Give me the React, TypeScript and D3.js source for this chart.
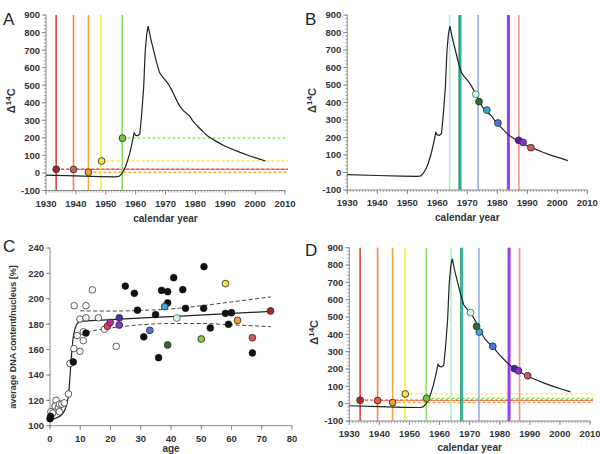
import React from "react";
import * as d3 from "d3";

// ---------- Data ----------
const bombYears = [1930, 1940, 1948, 1953.5, 1954.5, 1955.3, 1956.2, 1957, 1958, 1958.8, 1959.5, 1960, 1960.7, 1961.4, 1962, 1962.7, 1963.2, 1963.7, 1964.2, 1965, 1966, 1967, 1968, 1969, 1970, 1971, 1972, 1973, 1974, 1975, 1976, 1977, 1978, 1979, 1980, 1981, 1982, 1983, 1984, 1985, 1986, 1987, 1988, 1990, 1992, 1995, 1998, 2001, 2003.5];
const bombD14C = [-12, -17, -21, -22, -19, -5, 20, 53, 110, 170, 228, 215, 212, 222, 330, 490, 690, 790, 837, 770, 700, 630, 572, 548, 528, 505, 475, 440, 405, 375, 355, 340, 325, 300, 280, 262, 245, 228, 212, 200, 190, 180, 170, 152, 138, 117, 98, 82, 68];

const yearTicks = [1930, 1940, 1950, 1960, 1970, 1980, 1990, 2000, 2010];
const d14cTicks = [-100, 0, 100, 200, 300, 400, 500, 600, 700, 800, 900];

// lineage colours
const colLine = {
  darkred: "#d9483f", salmon: "#ee8455", orange: "#f6a93b", yellow: "#fbea45", green: "#8ee05a",
  mint: "#aef0cc", dkgreen: "#2f9a5c", teal: "#31aeb0", blue: "#8fb0ee", purple: "#9b3cf0", lightred: "#f59090",
};

// Panel A: pre-bomb births
const aLineYears = [1933.4, 1939.2, 1944.2, 1948.4, 1955.5];
const aLineKeys = ["darkred", "salmon", "orange", "yellow", "green"];
const aDotYears = [1933.4, 1939.2, 1944.2, 1948.6, 1955.6];
const aDotValues = [21, 20, 4, 68, 198];
const aDotFill = ["#a82828", "#d9603a", "#f0a030", "#f3e53a", "#6cc83c"];

// Panel B: post-bomb births
const bLineYears = [1964.1, 1967.3, 1967.8, 1973.6, 1983.7, 1987.2];
const bLineKeys = ["mint", "dkgreen", "teal", "blue", "purple", "lightred"];
const bDotYears = [1972.8, 1973.9, 1976.5, 1980.2, 1987.1, 1988.6, 1991.2];
const bDotValues = [447, 405, 357, 283, 184, 172, 142];
const bDotFill = ["#d6f5e4", "#2f6b2f", "#3aa8d8", "#4a78d0", "#4a1fa8", "#8a30d0", "#d05a5a"];

// Panel D: combined
const dLineYears = [1933.6, 1939.4, 1944.4, 1948.5, 1955.6, 1963.8, 1967.1, 1967.6, 1973.1, 1983.1, 1986.6];
const dLineKeys = ["darkred", "salmon", "orange", "yellow", "green", "mint", "dkgreen", "teal", "blue", "purple", "lightred"];
const dDotYears = [1933.6, 1939.4, 1944.4, 1948.6, 1955.7, 1970.3, 1972.3, 1973.2, 1977.7, 1984.9, 1986.2, 1989.3];
const dDotValues = [20, 18, 6, 56, 31, 525, 446, 413, 331, 202, 190, 161];
const dDotFill = ["#a82828", "#d9603a", "#f0a030", "#f3e53a", "#6cc83c", "#d6f5e4", "#2f6b2f", "#3aa8d8", "#4a78d0", "#4a1fa8", "#8a30d0", "#d05a5a"];
const dHYears = [1933.6, 1939.4, 1944.4, 1948.6, 1955.7];
const dHValues = [20, 18, 6, 56, 31];
const dHKeys = ["darkred", "salmon", "orange", "yellow", "green"];

// Panel C: DNA content vs age
const openAge = [0.3, 0.9, 2, 1.7, 2.8, 3.1, 3.9, 4.7, 3.1, 6.1, 6.6, 7.9, 8, 9, 9.9, 9.9, 11, 11, 11.9, 11.9, 14, 16, 18, 21.9];
const openDNA = [111, 110, 120, 115.5, 114.7, 117, 117, 118, 111, 125, 149, 160.7, 194.5, 171, 158.6, 184, 167, 174, 194.5, 185, 207, 185, 176, 162.5];
const blackAge = [0, 0.2, 7.7, 11.9, 24.9, 27.9, 28.9, 31, 34.9, 36.9, 35.9, 38.9, 38.9, 40.9, 43.9, 44.8, 50.9, 50.8, 53, 58, 59, 60, 66.9];
const blackDNA = [105.5, 107.3, 150.2, 173, 210, 204.3, 191, 170, 187.5, 206.6, 153.6, 205.6, 196.7, 216.6, 207.2, 192.5, 225.3, 192.5, 177, 188.5, 179.9, 189, 157.3];
const colAge = [19, 19.9, 22.9, 22.9, 33, 37.9, 38.9, 41.9, 50, 58, 62, 66.9, 72.9];
const colDNA = [178.3, 181.4, 185, 179.3, 175.1, 193.8, 163.6, 184.8, 168.3, 211.9, 183, 169.3, 190.4];
const colFill = ["#e0406a", "#c02a9a", "#4a2ab8", "#8a30c8", "#4a78d0", "#3aa8d8", "#2f6b2f", "#d6f5e4", "#7ed04a", "#f3e53a", "#f0a030", "#d05a5a", "#a82828"];
const colStroke = ["#333", "#333", "#333", "#333", "#333", "#333", "#333", "#2a8a6a", "#333", "#333", "#333", "#333", "#333"];

const fitAge = [0, 2, 4, 5, 6, 6.5, 7, 7.5, 8, 8.5, 9, 10, 11, 20, 40, 73];
const fitDNA = [104, 106, 109, 113, 122, 135, 152, 166, 174, 178, 180.5, 182, 182.3, 183.5, 186, 190];
const bandAge = [10, 20, 30, 40, 50, 60, 73];
const bandUpper = [190.5, 190.3, 190.8, 192, 194.5, 197.5, 201.5];
const bandLower = [173, 177, 179.5, 180.5, 180.5, 179.5, 178];

const ageTicks = [0, 10, 20, 30, 40, 50, 60, 70, 80];
const dnaTicks = [100, 120, 140, 160, 180, 200, 220, 240];

const FONT = "'Liberation Sans', Arial, sans-serif";
const AXIS = "#8a8a8a";
const TXT = "#333";

type Sc = d3.ScaleLinear<number, number>;

function Axes({ x, y, xt, yt, xMinor, yMinor, xTitle, titleDy }: { x: Sc; y: Sc; xt: number[]; yt: number[]; xMinor: number; yMinor: number; xTitle: string; titleDy: number }) {
  const [x0, x1] = x.range();
  const [yb, ytop] = y.range();
  const xd = x.domain();
  const yd = y.domain();
  const xm = d3.range(xd[0], xd[1] + 0.001, xMinor);
  const ym = d3.range(yd[0], yd[1] + 0.001, yMinor);
  return (
    <g>
      <line x1={x0} x2={x1} y1={yb} y2={yb} stroke={AXIS} strokeWidth={1} />
      <line x1={x0} x2={x0} y1={yb} y2={ytop} stroke={AXIS} strokeWidth={1} />
      {xm.map((v, i) => (
        <line key={"xm" + i} x1={x(v)} x2={x(v)} y1={yb} y2={yb + 2} stroke={AXIS} strokeWidth={0.8} />
      ))}
      {ym.map((v, i) => (
        <line key={"ym" + i} x1={x0 - 2} x2={x0} y1={y(v)} y2={y(v)} stroke={AXIS} strokeWidth={0.8} />
      ))}
      {xt.map((v) => (
        <g key={"xt" + v}>
          <line x1={x(v)} x2={x(v)} y1={yb} y2={yb + 4} stroke={AXIS} strokeWidth={1} />
          <text x={x(v)} y={yb + 16} textAnchor="middle" fontFamily={FONT} fontWeight="bold" fontSize={9.5} fill={TXT}>{v}</text>
        </g>
      ))}
      {yt.map((v) => (
        <g key={"yt" + v}>
          <line x1={x0 - 4} x2={x0} y1={y(v)} y2={y(v)} stroke={AXIS} strokeWidth={1} />
          <text x={x0 - 6} y={y(v) + 3.4} textAnchor="end" fontFamily={FONT} fontWeight="bold" fontSize={9.5} fill={TXT}>{v}</text>
        </g>
      ))}
      <text x={(x0 + x1) / 2} y={yb + titleDy} textAnchor="middle" fontFamily={FONT} fontWeight="bold" fontSize={10} fill={TXT}>{xTitle}</text>
    </g>
  );
}

function BombPanel({ xr, yr, letter, lx, ly, titleDy, vYears, vKeys, hYears, hValues, hKeys, dotYears, dotValues, dotFill }: any) {
  const x = d3.scaleLinear().domain([1930, 2010]).range(xr);
  const y = d3.scaleLinear().domain([-100, 900]).range(yr);
  const line = d3.line<number>().x((_, i) => x(bombYears[i])).y((d) => y(d));
  const yMid = (yr[0] + yr[1]) / 2;
  return (
    <g>
      <text x={lx} y={ly} fontFamily={FONT} fontSize={17} fill="#222">{letter}</text>
      {hYears.map((yy: number, i: number) => (
        <line key={"h" + i} x1={x(yy)} x2={x(2011)} y1={y(hValues[i])} y2={y(hValues[i])} stroke={(colLine as any)[hKeys[i]]} strokeWidth={1.3} strokeDasharray="3,2" />
      ))}
      {vYears.map((yy: number, i: number) => (
        <line key={"v" + i} x1={x(yy)} x2={x(yy)} y1={y(900)} y2={y(-100)} stroke={(colLine as any)[vKeys[i]]} strokeWidth={vKeys[i] === "purple" ? 3 : 1.6} />
      ))}
      <Axes x={x} y={y} xt={yearTicks} yt={d14cTicks} xMinor={1} yMinor={20} xTitle="calendar year" titleDy={titleDy} />
      <path d={line(bombD14C) || ""} fill="none" stroke="#222" strokeWidth={1.2} />
      {dotYears.map((yy: number, i: number) => (
        <circle key={"d" + i} cx={x(yy)} cy={y(dotValues[i])} r={3.4} fill={dotFill[i]} stroke={dotFill[i] === "#d6f5e4" ? "#2a8a6a" : "#333"} strokeWidth={0.9} />
      ))}
      <text transform={`translate(${xr[0] - 31},${yMid - 2}) rotate(-90)`} textAnchor="middle" fontFamily={FONT} fontWeight="bold" fontSize={11} fill={TXT}>
        <tspan>Δ</tspan><tspan fontSize={8} dy={-4.5}>14</tspan><tspan dy={4.5}>C</tspan>
      </text>
    </g>
  );
}

function DnaPanel() {
  const x = d3.scaleLinear().domain([0, 80]).range([50, 292]);
  const y = d3.scaleLinear().domain([100, 240]).range([425.7, 248]);
  const fit = d3.line<number>().x((_, i) => x(fitAge[i])).y((d) => y(d)).curve(d3.curveMonotoneX);
  const band = d3.line<number>().x((_, i) => x(bandAge[i])).y((d) => y(d)).curve(d3.curveMonotoneX);
  return (
    <g>
      <text x={3} y={252} fontFamily={FONT} fontSize={17} fill="#222">C</text>
      <Axes x={x} y={y} xt={ageTicks} yt={dnaTicks} xMinor={10} yMinor={20} xTitle="age" titleDy={26} />
      <path d={band(bandUpper) || ""} fill="none" stroke="#444" strokeWidth={1} strokeDasharray="4,2.5" />
      <path d={band(bandLower) || ""} fill="none" stroke="#444" strokeWidth={1} strokeDasharray="4,2.5" />
      <path d={fit(fitDNA) || ""} fill="none" stroke="#222" strokeWidth={1.2} />
      {openAge.map((a, i) => (
        <circle key={"o" + i} cx={x(a)} cy={y(openDNA[i])} r={3.3} fill="#fff" stroke="#333" strokeWidth={0.8} />
      ))}
      {blackAge.map((a, i) => (
        <circle key={"b" + i} cx={x(a)} cy={y(blackDNA[i])} r={3.4} fill="#111" stroke="#111" strokeWidth={0.6} />
      ))}
      {colAge.map((a, i) => (
        <circle key={"c" + i} cx={x(a)} cy={y(colDNA[i])} r={3.4} fill={colFill[i]} stroke={colStroke[i]} strokeWidth={0.9} />
      ))}
      <text transform={`translate(16,337) rotate(-90)`} textAnchor="middle" fontFamily={FONT} fontWeight="bold" fontSize={9} fill={TXT}>average DNA content/nucleus [%]</text>
    </g>
  );
}

export default function App() {
  return (
    <svg width={600} height={454} style={{ position: "absolute", left: 0, top: 0, background: "#fff" }}>
      <rect width={600} height={454} fill="#fff" />
      <BombPanel xr={[46, 285]} yr={[190.5, 15]} letter="A" lx={3} ly={25} titleDy={31}
        vYears={aLineYears} vKeys={aLineKeys}
        hYears={aDotYears} hValues={aDotValues} hKeys={aLineKeys}
        dotYears={aDotYears} dotValues={aDotValues} dotFill={aDotFill} />
      <BombPanel xr={[347.3, 587.3]} yr={[190, 15]} letter="B" lx={305} ly={25} titleDy={31}
        vYears={bLineYears} vKeys={bLineKeys}
        hYears={[]} hValues={[]} hKeys={[]}
        dotYears={bDotYears} dotValues={bDotValues} dotFill={bDotFill} />
      <DnaPanel />
      <BombPanel xr={[349.3, 590]} yr={[421, 247.7]} letter="D" lx={305} ly={256} titleDy={30}
        vYears={dLineYears} vKeys={dLineKeys}
        hYears={dHYears} hValues={dHValues} hKeys={dHKeys}
        dotYears={dDotYears} dotValues={dDotValues} dotFill={dDotFill} />
    </svg>
  );
}
